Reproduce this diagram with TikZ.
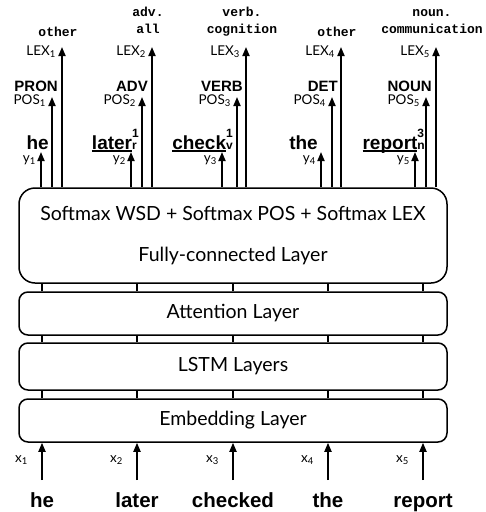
\documentclass[tikz,border=0pt]{standalone}
\usepackage{fontspec}
\setmainfont{Lato}
\newfontfamily\wordfont{Liberation Sans}
\newfontfamily\codefont{Liberation Mono}
\usetikzlibrary{arrows.meta}

% underlined word with a sense number above and a pos letter below
\newcommand\sensetag[3]{\setbox0\hbox{#1}\rlap{\smash{\rule[-2.5pt]{\wd0}{2pt}}}\box0\rlap{\raisebox{0.62em}{\fontsize{12}{12}\selectfont #2}}{\fontsize{12}{12}\selectfont #3}}

\begin{document}
\begin{tikzpicture}[x=1pt,y=-1pt,>={Triangle[length=9pt,width=7pt]},
layer/.style={draw,line width=1.5pt,rounded corners=9pt,minimum width=428pt,inner sep=0pt,font=\fontsize{19.5}{22}\selectfont},
link/.style={line width=1.8pt},
up/.style={->,line width=1.8pt},
lab/.style={inner sep=0pt,font=\fontsize{13.5}{15}\selectfont},
tagword/.style={inner sep=0pt,font=\wordfont\bfseries\fontsize{15}{17}\selectfont},
outword/.style={inner sep=0pt,font=\wordfont\bfseries\fontsize{19}{21}\selectfont},
inword/.style={inner sep=0pt,font=\wordfont\bfseries\fontsize{20.5}{22}\selectfont},
code/.style={inner sep=0pt,align=center,text depth=0pt,font=\codefont\bfseries\fontsize{13}{17}\selectfont}]
  \useasboundingbox (0,0) rectangle (486,512);
  \node[layer,minimum height=95pt,rounded corners=16pt,align=center] (fc) at (233,235.5) {Softmax WSD + Softmax POS + Softmax LEX\\[19pt]Fully-connected Layer};
  \node[layer,minimum height=43pt] (att) at (233,313.5) {Attention Layer};
  \node[layer,minimum height=47pt] (lstm) at (233,366.5) {LSTM Layers};
  \node[layer,minimum height=43pt] (emb) at (233,420.5) {Embedding Layer};
  \foreach \n/\xm/\ya/\pa/\la/\wx/\word/\tag/\lex/\ly/\inp in {
    1/42/41/52/62/49/he/PRON/other/37/he,
    2/137/131/142/152/137/{\sensetag{later}{1}{r}}/ADV/{adv.\\all}/34/later,
    3/233/222/237/246/233/{\sensetag{check}{1}{v}}/VERB/{verb.\\cognition}/34/checked,
    4/328/321/332/341/318/the/DET/other/37/the,
    5/423/415/426/436/425/{\sensetag{report}{3}{n}}/NOUN/{noun.\\communication}/34/report}
  {
    \coordinate (col\n) at (\xm,0);
    \draw[link] (col\n |- emb.north) -- (col\n |- lstm.south);
    \draw[link] (col\n |- lstm.north) -- (col\n |- att.south);
    \draw[link] (col\n |- att.north) -- (col\n |- fc.south);
    % inputs
    \node[inword,anchor=base] (in\n) at (\xm,507) {\inp};
    \node[lab,anchor=base east] (x\n) at (\xm-14,462) {x\textsubscript{\n}};
    \coordinate (s\n) at (\xm,480);
    \draw[up] (s\n) -- (s\n |- emb.south);
    % outputs
    \coordinate (yt\n) at (\ya,152);
    \coordinate (pt\n) at (\pa,97);
    \coordinate (lt\n) at (\la,47);
    \draw[up] (yt\n |- fc.north) -- (yt\n);
    \draw[up] (pt\n |- fc.north) -- (pt\n);
    \draw[up] (lt\n |- fc.north) -- (lt\n);
    \node[lab,anchor=base east] (y\n) at (\ya-5,162) {y\textsubscript{\n}};
    \node[outword,anchor=base east] (w\n) at (\wx,149) {\word};
    \node[lab,anchor=base east] (p\n) at (\pa-6,104) {POS\textsubscript{\n}};
    \node[tagword,anchor=base east] (t\n) at (\pa+6,91) {\tag};
    \node[lab,anchor=base east] (l\n) at (\la-6,55) {LEX\textsubscript{\n}};
    \node[code,anchor=south] (c\n) at (\la-4,\ly) {\lex};
  }
\end{tikzpicture}
\end{document}
